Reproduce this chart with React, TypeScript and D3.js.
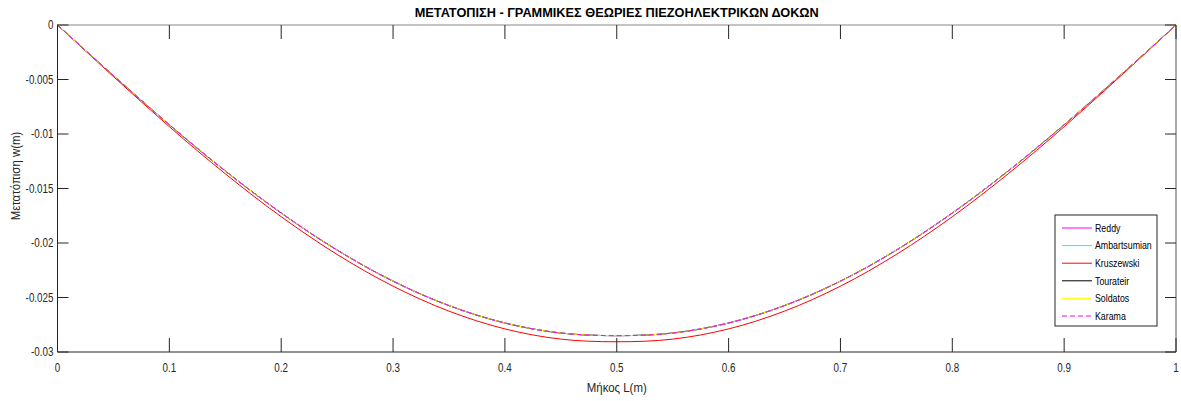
import React from "react";
import * as d3 from "d3";

const xValues = [0, 0.05, 0.1, 0.15, 0.2, 0.25, 0.3, 0.35, 0.4, 0.45, 0.5, 0.55, 0.6, 0.65, 0.7, 0.75, 0.8, 0.85, 0.9, 0.95, 1];
const wUpper = [0, -0.00464, -0.00915, -0.01339, -0.01725, -0.02065, -0.02350, -0.02574, -0.02734, -0.02826, -0.0285, -0.02826, -0.02734, -0.02574, -0.02350, -0.02065, -0.01725, -0.01339, -0.00915, -0.00464, 0];
const wLower = [0, -0.00473, -0.00933, -0.01365, -0.01759, -0.02105, -0.02396, -0.02625, -0.02788, -0.02882, -0.02906, -0.02882, -0.02788, -0.02625, -0.02396, -0.02105, -0.01759, -0.01365, -0.00933, -0.00473, 0];

const seriesNames = ["Reddy", "Ambartsumian", "Kruszewski", "Tourateir", "Soldatos", "Karama"];
const seriesValues = [wUpper, wUpper, wLower, wUpper, wUpper, wUpper];
const seriesColors = ["#ff00ff", "#00ffff", "#ff0000", "#000000", "#ffff00", "#ff00ff"];
const seriesDash = [null, null, null, null, null, "5,3"];

const xTicks = [0, 0.1, 0.2, 0.3, 0.4, 0.5, 0.6, 0.7, 0.8, 0.9, 1];
const yTicks = [0, -0.005, -0.01, -0.015, -0.02, -0.025, -0.03];
const yTickLabels = ["0", "-0.005", "-0.01", "-0.015", "-0.02", "-0.025", "-0.03"];

const title = "ΜΕΤΑΤΟΠΙΣΗ - ΓΡΑΜΜΙΚΕΣ ΘΕΩΡΙΕΣ ΠΙΕΖΟΗΛΕΚΤΡΙΚΩΝ ΔΟΚΩΝ";
const xLabel = "Μήκος L(m)";
const yLabel = "Μετατόπιση w(m)";

const W = 1181, H = 401;
const left = 57.5, right = 1176, top = 25, bottom = 352;
const font = "'Liberation Sans', Arial, Helvetica, sans-serif";
const axisColor = "#262626";

function T(props: { x: number; y: number; sx?: number; rot?: number; anchor?: string; size: number; fill?: string; weight?: string; dy?: string; children: React.ReactNode; textLength?: number }) {
  const { x, y, sx = 0.82, rot = 0, anchor = "start", size, fill = axisColor, weight = "normal", dy, children, textLength } = props;
  return (
    <text transform={`translate(${x},${y}) rotate(${rot}) scale(${sx},1)`} textAnchor={anchor} fontSize={size}
      fill={fill} fontWeight={weight} dy={dy} textLength={textLength}
      lengthAdjust={textLength ? "spacingAndGlyphs" : undefined}>{children}</text>
  );
}

export default function App() {
  const x = d3.scaleLinear().domain([0, 1]).range([left, right]);
  const y = d3.scaleLinear().domain([-0.03, 0]).range([bottom, top]);
  const line = d3.line<number>()
    .x((_, i) => x(xValues[i]))
    .y((d) => y(d))
    .curve(d3.curveCatmullRom.alpha(0.5));

  const legX = 1055, legY = 215, legW = 102, legH = 111;
  const rowH = 17.6;

  return (
    <svg width={W} height={H} style={{ position: "absolute", left: 0, top: 0, background: "#fff" }} fontFamily={font}>
      <rect x={0} y={0} width={W} height={H} fill="#fff" />
      <g>
        {seriesValues.map((vals, i) => (
          <path key={i} d={line(vals) || ""} fill="none" stroke={seriesColors[i]} strokeWidth={1}
            strokeDasharray={seriesDash[i] || undefined} />
        ))}
      </g>
      <line x1={left} x2={right} y1={top} y2={top} stroke="#888" strokeWidth={1} />
      <line x1={right} x2={right} y1={top} y2={bottom} stroke="#555" strokeWidth={1} />
      <line x1={left} x2={right} y1={bottom} y2={bottom} stroke={axisColor} strokeWidth={1} />
      <line x1={left} x2={left} y1={top} y2={bottom} stroke={axisColor} strokeWidth={1} />
      {xTicks.map((t, i) => (
        <g key={"xt" + i}>
          <line x1={x(t)} x2={x(t)} y1={bottom} y2={bottom - 14} stroke={axisColor} strokeWidth={1} />
          <line x1={x(t)} x2={x(t)} y1={top} y2={top + 14} stroke={axisColor} strokeWidth={1} />
          <T x={x(t)} y={372} anchor="middle" size={12}>{String(t)}</T>
        </g>
      ))}
      {yTicks.map((t, i) => (
        <g key={"yt" + i}>
          <line x1={left} x2={left + 11} y1={y(t)} y2={y(t)} stroke={axisColor} strokeWidth={1} />
          <line x1={right} x2={right - 11} y1={y(t)} y2={y(t)} stroke={axisColor} strokeWidth={1} />
          <T x={left - 4} y={y(t)} dy="0.35em" anchor="end" size={12}>{yTickLabels[i]}</T>
        </g>
      ))}
      <T x={(left + right) / 2} y={16.5} anchor="middle" size={13.5} weight="bold" fill="#000" sx={1} textLength={404}>{title}</T>
      <T x={(left + right) / 2} y={392} anchor="middle" size={13} sx={0.88}>{xLabel}</T>
      <T x={20} y={176} rot={-90} anchor="middle" size={13} sx={0.88}>{yLabel}</T>
      <g>
        <rect x={legX} y={legY} width={legW} height={legH} fill="#fff" stroke={axisColor} strokeWidth={1} />
        {seriesNames.map((n, i) => {
          const yy = legY + 13 + i * rowH;
          return (
            <g key={"lg" + i}>
              <line x1={legX + 7} x2={legX + 37} y1={yy} y2={yy} stroke={seriesColors[i]} strokeWidth={1}
                strokeDasharray={seriesDash[i] || undefined} />
              <T x={legX + 40} y={yy} dy="0.35em" size={11} sx={0.8} fill="#000">{n}</T>
            </g>
          );
        })}
      </g>
    </svg>
  );
}
